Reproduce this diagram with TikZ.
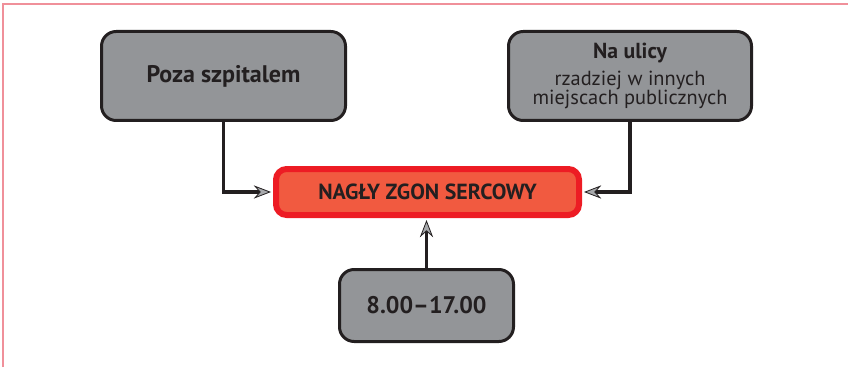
\documentclass[tikz,border=0pt]{standalone}
\usepackage{fontspec}
\setmainfont{PT Sans}
\usetikzlibrary{arrows.meta,calc}
\definecolor{boxgray}{HTML}{939598}
\definecolor{ink}{HTML}{231F20}
\definecolor{redborder}{HTML}{ED1C24}
\definecolor{redfill}{HTML}{F15A40}
\definecolor{framepink}{HTML}{F0909A}
\definecolor{arrgray}{HTML}{A7A9AC}
\newcommand{\smalltxt}{\fontsize{15.3}{14.6}\selectfont}
\newcommand{\bigtxt}{\fontsize{16.3}{19}\selectfont\bfseries}
\tikzset{
  graybox/.style={draw=ink, fill=boxgray, line width=2.25pt, rounded corners=11pt,
    text=ink, align=center, inner sep=0pt},
  redbox/.style={draw=redborder, fill=redfill, line width=4.5pt, rounded corners=8pt,
    text=ink, align=center, inner sep=0pt},
  conn/.style={draw=ink, line width=2.3pt, shorten >=1.5pt,
    -{Stealth[length=13pt, width=10pt, inset=4.5pt, fill=arrgray, line width=0.6pt]}},
}
\begin{document}
\begin{tikzpicture}[x=0.75pt, y=-0.75pt]
\useasboundingbox (0,0) rectangle (848,367);
\draw[framepink, line width=1.5pt] (3,367) -- (3,4) -- (848,4);
\node[graybox, minimum width=183pt, minimum height=66.75pt] (left) at (223.5,76)
  {\fontsize{18}{21}\selectfont\bfseries Poza szpitalem};
\node[graybox, minimum width=182.25pt, minimum height=66.75pt, align=none] (right) at (630,76)
  {\begin{tabular}{@{}c@{}}
   \bigtxt Na ulicy\\[5.8pt]
   \smalltxt rzadziej w innych\\
   \smalltxt miejscach publicznych
   \end{tabular}};
\node[redbox, minimum width=227.25pt, minimum height=34.5pt] (red) at (427.5,192)
  {\fontsize{16.4}{19}\selectfont\bfseries NAGŁY ZGON SERCOWY};
\node[graybox, minimum width=130.5pt, minimum height=54pt] (bottom) at (426.5,305.5)
  {\fontsize{18}{21}\selectfont\bfseries 8.00–17.00};
\draw[conn] (left.south) |- (red.west);
\draw[conn] (right.south) |- (red.east);
\draw[conn] (bottom.north) -- (bottom.north |- red.south);
\end{tikzpicture}
\end{document}
